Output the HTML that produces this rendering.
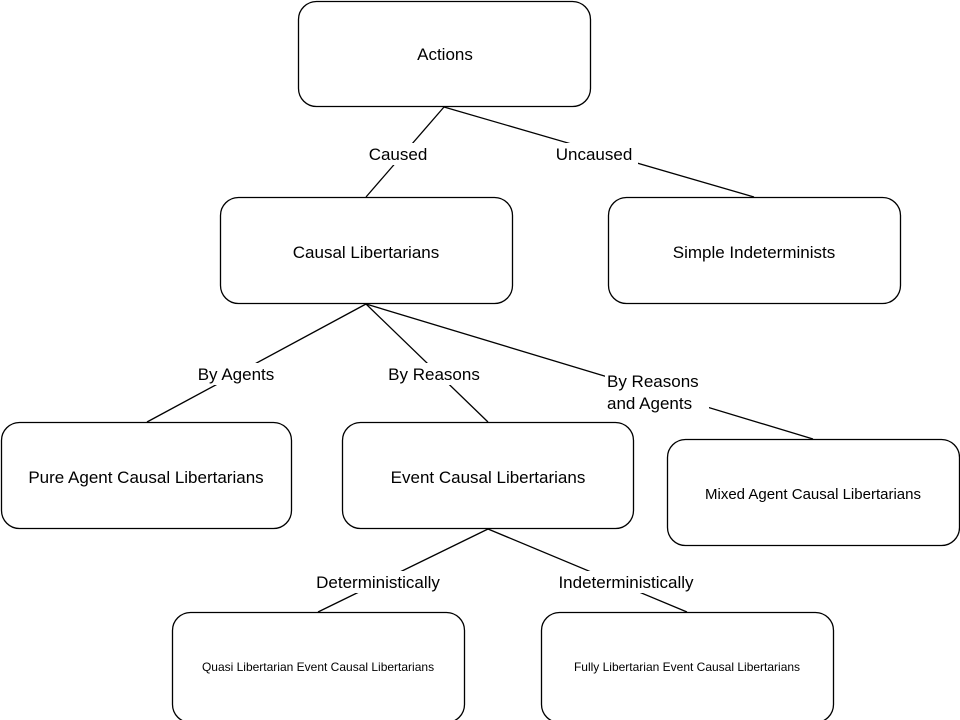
<!DOCTYPE html>
<html><head><meta charset="utf-8"><style>html,body{margin:0;padding:0;background:#fff;}svg{display:block}</style></head>
<body>
<svg width="960" height="720" viewBox="0 0 960 720" xmlns="http://www.w3.org/2000/svg" font-family="Liberation Sans, Arial, sans-serif" fill="#000">
<g stroke="#000" stroke-width="1.3" fill="none">
<line x1="444" y1="107" x2="366" y2="197"/>
<line x1="444" y1="107" x2="754" y2="197"/>
<line x1="366" y1="304" x2="147" y2="422"/>
<line x1="366" y1="304" x2="488" y2="422"/>
<line x1="366" y1="304" x2="813" y2="439"/>
<line x1="488" y1="529" x2="318" y2="612"/>
<line x1="488" y1="529" x2="687" y2="612"/>
</g>
<g fill="#fff">
<rect x="364" y="143" width="68" height="22"/>
<rect x="550" y="143" width="88" height="22"/>
<rect x="192" y="363" width="88" height="22"/>
<rect x="382" y="363" width="104" height="22"/>
<rect x="605" y="370" width="104" height="44"/>
<rect x="307" y="571" width="140" height="22"/>
<rect x="550" y="571" width="152" height="22"/>
</g>
<g font-size="17">
<text x="398" y="160" text-anchor="middle">Caused</text>
<text x="594" y="160" text-anchor="middle">Uncaused</text>
<text x="236" y="380" text-anchor="middle">By Agents</text>
<text x="434" y="380" text-anchor="middle">By Reasons</text>
<text x="607" y="387">By Reasons</text>
<text x="607" y="409">and Agents</text>
<text x="378" y="588" text-anchor="middle">Deterministically</text>
<text x="626" y="588" text-anchor="middle">Indeterministically</text>
</g>
<g stroke="#000" stroke-width="1.3" fill="#fff">
<rect x="298.5" y="1.5" width="292" height="105" rx="18"/>
<rect x="220.5" y="197.5" width="292" height="106" rx="18"/>
<rect x="608.5" y="197.5" width="292" height="106" rx="18"/>
<rect x="1.5" y="422.5" width="290" height="106" rx="18"/>
<rect x="342.5" y="422.5" width="291" height="106" rx="18"/>
<rect x="667.5" y="439.5" width="292" height="106" rx="18"/>
<rect x="172.5" y="612.5" width="292" height="110" rx="18"/>
<rect x="541.5" y="612.5" width="292" height="110" rx="18"/>
</g>
<g font-size="17" text-anchor="middle">
<text x="445" y="60">Actions</text>
<text x="366" y="258">Causal Libertarians</text>
<text x="754" y="258">Simple Indeterminists</text>
<text x="146" y="483">Pure Agent Causal Libertarians</text>
<text x="488" y="483">Event Causal Libertarians</text>
<text x="813" y="499" font-size="15">Mixed Agent Causal Libertarians</text>
<text x="318" y="671" font-size="12">Quasi Libertarian Event Causal Libertarians</text>
<text x="687" y="671" font-size="12">Fully Libertarian Event Causal Libertarians</text>
</g>
</svg>
</body></html>
